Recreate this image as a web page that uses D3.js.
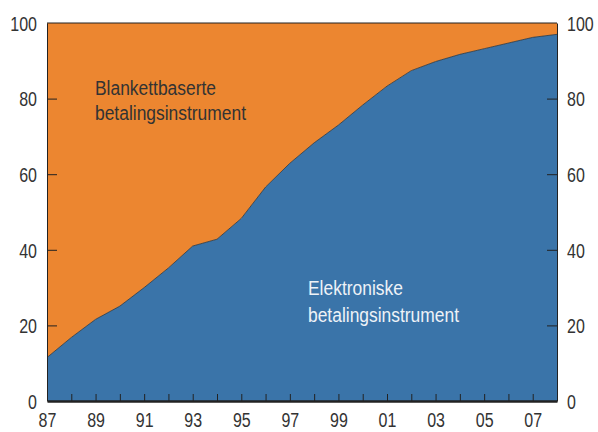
<!DOCTYPE html>
<meta charset="utf-8">
<style>
body { margin: 0; background: #fff; }
text { font-family: "Liberation Sans", Arial, sans-serif; fill: #333; }
.tick text { font-size: 20px; }
.lbl { font-size: 21px; }
</style>
<body>
<svg width="598" height="432"></svg>
<script src="https://d3js.org/d3.v7.min.js"></script>
<script>

// share of electronic payment instruments, percent
var years = [1987, 1988, 1989, 1990, 1991, 1992, 1993, 1994, 1995, 1996, 1997,
             1998, 1999, 2000, 2001, 2002, 2003, 2004, 2005, 2006, 2007, 2008];
var elektroniske = [11.5, 16.8, 21.6, 25.1, 30.0, 35.2, 41.0, 42.8, 48.3, 56.6, 62.9,
                    68.3, 73.0, 78.3, 83.3, 87.4, 89.8, 91.7, 93.2, 94.7, 96.2, 97.0];
var tickYears = [1987, 1989, 1991, 1993, 1995, 1997, 1999, 2001, 2003, 2005, 2007];
var yTicks = [0, 20, 40, 60, 80, 100];

var svg = d3.select("svg");
var mLeft = 47, mRight = 557, mTop = 23, mBottom = 401;
var narrow = 0.8;

var x = d3.scaleLinear().domain([1987, 2008]).range([mLeft, mRight]);
var y = d3.scaleLinear().domain([0, 100]).range([mBottom, mTop]);

var data = years.map(function(d, i) { return {year: d, v: elektroniske[i]}; });

// orange = blankettbaserte
svg.append("path")
    .datum(data)
    .attr("fill", "#EC8630")
    .attr("d", d3.area().x(function(d) { return x(d.year); }).y0(y(100)).y1(function(d) { return y(d.v); }));

svg.append("path")
    .datum(data)
    .attr("fill", "#3A74A9")
    .attr("d", d3.area().x(function(d) { return x(d.year); }).y0(y(0)).y1(function(d) { return y(d.v); }));

svg.append("path")
    .datum(data)
    .attr("fill", "none")
    .attr("stroke", "#333")
    .attr("stroke-width", 0.8)
    .attr("d", d3.line().x(function(d) { return x(d.year); }).y(function(d) { return y(d.v); }));

// frame
svg.append("line").attr("x1", mLeft).attr("x2", mRight).attr("y1", mTop).attr("y2", mTop)
    .attr("stroke", "#222").attr("stroke-width", 1);

// axes
var yLeft = svg.append("g")
    .attr("transform", "translate(" + mLeft + ",0)")
    .call(d3.axisLeft(y).tickValues(yTicks).tickSize(-10).tickSizeOuter(0));
var yRight = svg.append("g")
    .attr("transform", "translate(" + mRight + ",0)")
    .call(d3.axisRight(y).tickValues(yTicks).tickSize(-10).tickSizeOuter(0));

var xAxis = svg.append("g")
    .attr("transform", "translate(0," + mBottom + ")")
    .call(d3.axisBottom(x).tickValues(years).tickSize(-7).tickSizeOuter(0)
        .tickFormat(function(d) { return tickYears.indexOf(d) >= 0 ? d3.format("02")(d % 100) : ""; }));

svg.selectAll(".domain").attr("stroke", "#222");
svg.selectAll(".tick line").attr("stroke", "#222");
xAxis.select(".domain").attr("stroke-width", 2.5);
svg.selectAll(".tick text").attr("fill", "#333").attr("font-family", null).attr("font-size", null)
    .attr("transform", "scale(" + narrow + ",1)");
xAxis.selectAll(".tick text").attr("y", 12).attr("dy", "0.71em");
yLeft.selectAll(".tick text").attr("x", -10 / narrow).attr("dy", "0.36em");
yRight.selectAll(".tick text").attr("x", 10 / narrow).attr("dy", "0.36em");
yLeft.selectAll(".tick").filter(function(d) { return d === 0 || d === 100; }).select("line").remove();
yRight.selectAll(".tick").filter(function(d) { return d === 0 || d === 100; }).select("line").remove();
xAxis.selectAll(".tick").filter(function(d) { return d === 1987 || d === 2008; }).select("line").remove();

// labels
function label(x0, y0, lines, gap, col) {
    var t = svg.append("text").attr("class", "lbl")
        .attr("transform", "translate(" + x0 + "," + y0 + ") scale(0.83,1)")
        .style("fill", col);
    lines.forEach(function(s, i) {
        t.append("tspan").attr("x", 0).attr("y", i * gap).text(s);
    });
}
label(95, 95, ["Blankettbaserte", "betalingsinstrument"], 25, "#333");
label(308, 295, ["Elektroniske", "betalingsinstrument"], 27, "#EEF2F7");

</script>
</body>
